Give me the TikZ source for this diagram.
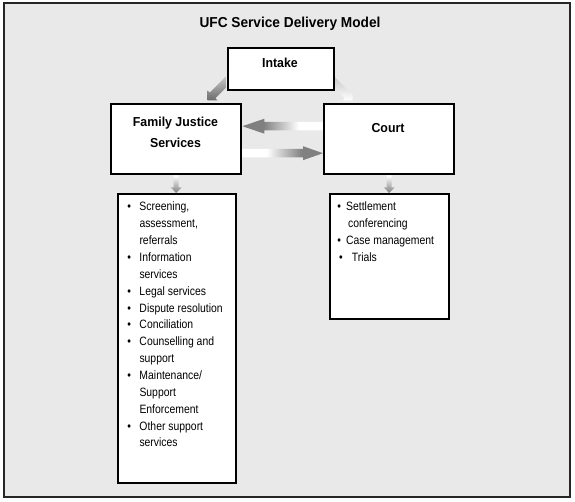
\documentclass[tikz,border=0pt]{standalone}
\usepackage{fontspec}
\setmainfont{Liberation Sans}
\newfontfamily\hdfont[FakeStretch=0.95]{Liberation Sans}
\newfontfamily\lstfont[FakeStretch=0.86]{Liberation Sans}
\usetikzlibrary{backgrounds,calc}
\definecolor{bgray}{HTML}{E9E9E9}
\definecolor{adark}{HTML}{808080}
\pgfdeclarehorizontalshading{fadetoleft}{100bp}{color(0bp)=(adark); color(38bp)=(adark); color(60bp)=(white); color(100bp)=(white)}
\pgfdeclarehorizontalshading{fadetoright}{100bp}{color(0bp)=(white); color(40bp)=(white); color(62bp)=(adark); color(100bp)=(adark)}
\newcommand{\itmb}{\makebox[12.1pt][l]{•}}
\newcommand{\itmi}{\hspace*{12.1pt}}
\begin{document}
\begin{tikzpicture}[x=1pt,y=-1pt,
  box/.style={draw=black, line width=2.4pt, fill=white, inner sep=0pt, anchor=north west},
  hd/.style={font=\hdfont\bfseries\fontsize{13}{20.6}\selectfont, inner sep=0pt, anchor=base},
  lst/.style={font=\lstfont\fontsize{12.1}{16.85}\selectfont, inner sep=0pt, anchor=base west}]
\useasboundingbox (0,0) rectangle (575,502);
% boxes
\node[box, minimum width=106pt, minimum height=42pt] (intake) at (227,47) {};
\node[box, minimum width=130pt, minimum height=70pt] (fjs) at (110,103) {};
\node[box, minimum width=130pt, minimum height=70pt] (court) at (323,103) {};
\node[box, minimum width=118pt, minimum height=289pt] (fjslist) at (117,193) {};
\node[box, minimum width=119pt, minimum height=125pt] (courtlist) at (329,193) {};
% texts
\node[font=\hdfont\bfseries\fontsize{14.4}{17}\selectfont, inner sep=0pt, anchor=base] (title) at (290,27.3) {UFC Service Delivery Model};
\node[hd] (intaket) at (280,67.3) {Intake};
\node[hd] (fjst) at (175.5,126.7) {\begin{tabular}[t]{@{}c@{}}Family Justice\\Services\end{tabular}};
\node[hd] (courtt) at (388,132.3) {Court};
\node[lst] (fjsitems) at (127.2,211) {\begin{tabular}[t]{@{}l@{}}
\itmb Screening,\\
\itmi assessment,\\
\itmi referrals\\
\itmb Information\\
\itmi services\\
\itmb Legal services\\
\itmb Dispute resolution\\
\itmb Conciliation\\
\itmb Counselling and\\
\itmi support\\
\itmb Maintenance/\\
\itmi Support\\
\itmi Enforcement\\
\itmb Other support\\
\itmi services
\end{tabular}};
\node[lst] (courtitems) at (337.2,211) {\begin{tabular}[t]{@{}l@{}}
\makebox[8.8pt][l]{•}Settlement\\
\hspace*{10.8pt}conferencing\\
\makebox[8.8pt][l]{•}Case management\\
\hspace*{1.7pt}\makebox[12.8pt][l]{•}Trials
\end{tabular}};
\begin{scope}[on background layer]
\fill[white] (0,0) rectangle (575,502);
\draw[fill=bgray, draw=black!85, line width=1.5pt] (4,3) rectangle (570,497);
% Intake -> FJS
\shade[top color=black!22, bottom color=black!58] (225.9,76.6) -- (209.74,92.74) -- (207.5,90.5) -- (207.5,100.5) -- (217.5,100.5) -- (215.26,98.26) -- (225.9,87.6) -- cycle;
% Intake -> Court
\shade[top color=black!22, bottom color=white] (334.1,76.6) -- (350.26,92.74) -- (352.5,90.5) -- (352.5,100.5) -- (342.5,100.5) -- (344.74,98.26) -- (334.1,87.6) -- cycle;
% Court -> FJS
\shade[shading=fadetoleft] ([yshift=13pt]fjs.east) -- ([xshift=22pt,yshift=20.5pt]fjs.east) -- ([xshift=22pt,yshift=17.2pt]fjs.east) -- ([yshift=17.2pt]court.west) -- ([yshift=8.8pt]court.west) -- ([xshift=22pt,yshift=8.8pt]fjs.east) -- ([xshift=22pt,yshift=5.5pt]fjs.east) -- cycle;
% FJS -> Court
\shade[shading=fadetoright] ([yshift=-9.8pt]fjs.east) -- ([xshift=-20pt,yshift=-9.8pt]court.west) -- ([xshift=-20pt,yshift=-7pt]court.west) -- ([yshift=-14pt]court.west) -- ([xshift=-20pt,yshift=-21pt]court.west) -- ([xshift=-20pt,yshift=-18.2pt]court.west) -- ([yshift=-18.2pt]fjs.east) -- cycle;
% FJS -> list
\shade[top color=white, bottom color=adark] ([xshift=-2.5pt]fjs.south) -- ([xshift=-2.5pt,yshift=-12pt]fjs.south) -- ([xshift=-5.5pt,yshift=-12pt]fjs.south) -- (fjs.south |- fjslist.north) -- ([xshift=5.5pt,yshift=-12pt]fjs.south) -- ([xshift=2.5pt,yshift=-12pt]fjs.south) -- ([xshift=2.5pt]fjs.south) -- cycle;
% Court -> list
\shade[top color=white, bottom color=adark] ([xshift=-2.5pt]court.south) -- ([xshift=-2.5pt,yshift=-12pt]court.south) -- ([xshift=-5.5pt,yshift=-12pt]court.south) -- (court.south |- courtlist.north) -- ([xshift=5.5pt,yshift=-12pt]court.south) -- ([xshift=2.5pt,yshift=-12pt]court.south) -- ([xshift=2.5pt]court.south) -- cycle;
\end{scope}
\end{tikzpicture}
\end{document}
